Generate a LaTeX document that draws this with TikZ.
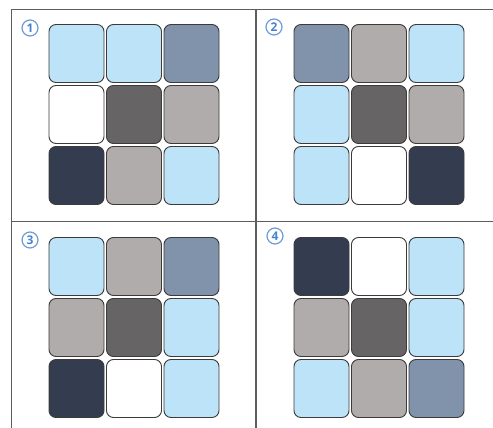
\documentclass[tikz,border=0pt]{standalone}
\usepackage{fontspec}
\newfontfamily\numfont{Open Sans}
\usetikzlibrary{positioning}
\definecolor{TileLight}{RGB}{189,227,248}
\definecolor{TileSteel}{RGB}{128,147,171}
\definecolor{TileGrey}{RGB}{176,172,171}
\definecolor{TileDark}{RGB}{102,100,100}
\definecolor{TileNavy}{RGB}{51,61,79}
\definecolor{TileWhite}{RGB}{255,255,255}
\definecolor{TileEdge}{RGB}{60,58,58}
\definecolor{NumBlue}{RGB}{72,130,205}
\definecolor{FrameGray}{RGB}{95,92,92}
\tikzset{
  tile/.style={rectangle, rounded corners=7pt, draw=TileEdge, line width=0.9pt,
               fill=#1, minimum width=55pt, minimum height=58pt, inner sep=0pt},
  num/.style={circle, draw=NumBlue!80, line width=1.2pt, minimum size=16pt, inner sep=0pt,
              font=\numfont\bfseries\fontsize{12}{12}\selectfont, text=NumBlue},
  frame/.style={draw=FrameGray, line width=1.4pt},
}
\begin{document}
\begin{tikzpicture}[x=1pt, y=-1pt]
  \useasboundingbox (0,0) rectangle (493,428);

  %% FRAME
  \coordinate (tl) at (11.5,9.5);
  \coordinate (tr) at (493,9.5);
  \coordinate (ml) at (11.5,221.5);
  \coordinate (mr) at (493,221.5);
  \coordinate (mt) at (256,9.5);
  \coordinate (bl) at (11.5,428);
  \coordinate (bm) at (256,428);
  \draw[frame] (tr) -- (tl) -- (bl);
  \draw[frame] (ml) -- (mr);
  \draw[frame] (mt) -- (bm);

  %% TILE GRIDS (row by row)
  \foreach \pan/\ox/\oy/\tiles in {
      1/0/0/{TileLight,TileLight,TileSteel,TileWhite,TileDark,TileGrey,TileNavy,TileGrey,TileLight},
      2/245/0/{TileSteel,TileGrey,TileLight,TileLight,TileDark,TileGrey,TileLight,TileWhite,TileNavy},
      3/0/213/{TileLight,TileGrey,TileSteel,TileGrey,TileDark,TileLight,TileNavy,TileWhite,TileLight},
      4/245/213/{TileNavy,TileWhite,TileLight,TileGrey,TileDark,TileLight,TileLight,TileGrey,TileSteel}} {
    \foreach \t [count=\k from 0] in \tiles {
      \pgfmathtruncatemacro\row{div(\k,3)}
      \pgfmathtruncatemacro\col{mod(\k,3)}
      \node[tile=\t] (t\pan-\k) at (\ox+76.5+57.5*\col, \oy+53.5+61*\row) {};
    }
  }

  %% PANEL NUMBERS
  \node[num] (n1) at (30,28)   {1};
  \node[num] (n2) at (274,27)  {2};
  \node[num] (n3) at (30,240)  {3};
  \node[num] (n4) at (275,236) {4};

\end{tikzpicture}
\end{document}
